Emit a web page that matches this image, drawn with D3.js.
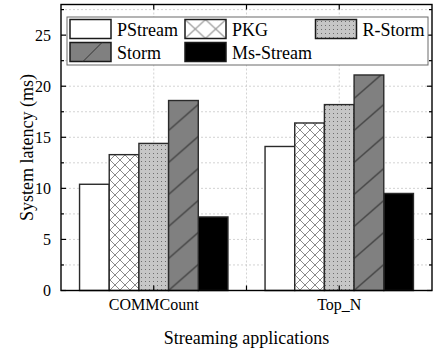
<!DOCTYPE html>
<html>
<head>
<meta charset="utf-8">
<script src="https://cdn.jsdelivr.net/npm/d3@7"></script>
<style>
  html, body { margin: 0; padding: 0; background: #fff; }
  svg { display: block; }
</style>
</head>
<body>
<svg id="chart" width="435" height="350"></svg>
<script>
// Applications on the x axis
const categories = ["COMMCount", "Top_N"];
// Systems compared (one bar per system in each group)
const seriesNames = ["PStream", "PKG", "R-Storm", "Storm", "Ms-Stream"];
// System latency in ms, per system, in category order
const pstream  = [10.4, 14.1];
const pkg      = [13.3, 16.4];
const rstorm   = [14.4, 18.2];
const storm    = [18.6, 21.1];
const msstream = [7.2, 9.5];
const seriesValues = [pstream, pkg, rstorm, storm, msstream];
// Y axis ticks
const yTicks = [0, 5, 10, 15, 20, 25];

const FONT = "'Liberation Serif', 'Times New Roman', Times, 'DejaVu Serif', serif";

const svg = d3.select("#chart").attr("font-family", FONT);
const defs = svg.append("defs");

const plot = { left: 61, right: 432, top: 4.5, bottom: 290.5 };

const x = d3.scaleLinear().domain([0.5, categories.length + 0.5]).range([plot.left, plot.right]);
const y = d3.scaleLinear().domain([0, 28]).range([plot.bottom, plot.top]);

// ---- fill patterns ----
// cross-hatch for PKG
const cross = defs.append("pattern").attr("id", "cross")
  .attr("patternUnits", "userSpaceOnUse").attr("width", 10).attr("height", 10);
cross.append("rect").attr("width", 10).attr("height", 10).attr("fill", "#fff");
cross.append("path").attr("d", "M0,0L10,10M10,0L0,10")
  .attr("stroke", "#8a8a8a").attr("stroke-width", 1).attr("fill", "none");

// larger cross-hatch for the legend key
const crossKey = defs.append("pattern").attr("id", "crossKey")
  .attr("patternUnits", "userSpaceOnUse").attr("x", 185).attr("y", 19.5)
  .attr("width", 20.5).attr("height", 19);
crossKey.append("rect").attr("width", 20.5).attr("height", 19).attr("fill", "#fff");
crossKey.append("path").attr("d", "M0,0L20.5,19M20.5,0L0,19")
  .attr("stroke", "#8a8a8a").attr("stroke-width", 1).attr("fill", "none");

// dotted grey for R-Storm
const dots = defs.append("pattern").attr("id", "dots")
  .attr("patternUnits", "userSpaceOnUse").attr("width", 4).attr("height", 4);
dots.append("rect").attr("width", 4).attr("height", 4).attr("fill", "#c6c6c6");
dots.append("rect").attr("x", 1).attr("y", 1).attr("width", 1).attr("height", 1).attr("fill", "#6e6e6e");

const fills = {
  "PStream": "#ffffff",
  "PKG": "url(#cross)",
  "R-Storm": "url(#dots)",
  "Storm": "#808080",
  "Ms-Stream": "#000000"
};

// ---- grid ----
const grid = svg.append("g").attr("class", "grid");
const gridY = d3.range(2.5, 28, 2.5);
grid.selectAll("line.gy").data(gridY).join("line")
  .attr("class", "gy")
  .attr("x1", plot.left).attr("x2", plot.right)
  .attr("y1", d => y(d)).attr("y2", d => y(d))
  .attr("stroke", "#c8c8c8").attr("stroke-width", 0.8).attr("stroke-dasharray", "2,2");
const xTickVals = [1, 1.5, 2];
grid.selectAll("line.gx").data(xTickVals).join("line")
  .attr("class", "gx")
  .attr("x1", d => x(d)).attr("x2", d => x(d))
  .attr("y1", plot.top).attr("y2", plot.bottom)
  .attr("stroke", "#c8c8c8").attr("stroke-width", 0.8).attr("stroke-dasharray", "2,2");

// ---- bars ----
const barData = [];
categories.forEach((cat, ci) => {
  const inner = d3.scaleBand().domain(seriesNames)
    .range([x(ci + 1 - 0.4), x(ci + 1 + 0.4)]);
  seriesNames.forEach((s, si) => {
    barData.push({ cat, s, value: seriesValues[si][ci], x0: inner(s), w: inner.bandwidth() });
  });
});

const bars = svg.append("g").attr("class", "bars");
bars.selectAll("rect").data(barData.filter(d => d.s !== "Storm")).join("rect")
  .attr("x", d => d.x0).attr("width", d => d.w)
  .attr("y", d => y(d.value)).attr("height", d => y(0) - y(d.value))
  .attr("fill", d => fills[d.s])
  .attr("stroke", "#2a2a2a").attr("stroke-width", 1.4);

// diagonal hatching on the Storm bars, anchored at each bar's base
const stormBars = barData.filter(d => d.s === "Storm");
stormBars.forEach((d, i) => {
  const id = "hatch" + i;
  const p = defs.append("pattern").attr("id", id)
    .attr("patternUnits", "userSpaceOnUse")
    .attr("x", d.x0).attr("y", y(0))
    .attr("width", d.w).attr("height", 32);
  p.append("rect").attr("width", d.w).attr("height", 32).attr("fill", "#808080");
  p.append("path").attr("d", `M0,32L${d.w},6`)
    .attr("stroke", "#333").attr("stroke-width", 1).attr("fill", "none");
  bars.append("rect")
    .attr("x", d.x0).attr("width", d.w)
    .attr("y", y(d.value)).attr("height", y(0) - y(d.value))
    .attr("fill", `url(#${id})`)
    .attr("stroke", "#2a2a2a").attr("stroke-width", 1.4);
});

// ---- axes frame and ticks ----
const axes = svg.append("g").attr("class", "axes");
const minorY = d3.range(2.5, 28, 5);
// left and right ticks (inward)
[[plot.left, 1], [plot.right, -1]].forEach(([ax, dir]) => {
  axes.selectAll(null).data(yTicks).join("line")
    .attr("x1", ax).attr("x2", ax + dir * 5)
    .attr("y1", d => y(d)).attr("y2", d => y(d))
    .attr("stroke", "#000").attr("stroke-width", 1.2);
  axes.selectAll(null).data(minorY).join("line")
    .attr("x1", ax).attr("x2", ax + dir * 3)
    .attr("y1", d => y(d)).attr("y2", d => y(d))
    .attr("stroke", "#000").attr("stroke-width", 1.2);
});
// top and bottom ticks (inward)
[[plot.bottom, -1], [plot.top, 1]].forEach(([ay, dir]) => {
  axes.selectAll(null).data(xTickVals).join("line")
    .attr("x1", d => x(d)).attr("x2", d => x(d))
    .attr("y1", ay).attr("y2", ay + dir * 5)
    .attr("stroke", "#000").attr("stroke-width", 1.2);
});
axes.append("rect")
  .attr("x", plot.left).attr("y", plot.top)
  .attr("width", plot.right - plot.left).attr("height", plot.bottom - plot.top)
  .attr("fill", "none").attr("stroke", "#000").attr("stroke-width", 1.4);

// y tick labels
axes.selectAll("text.yl").data(yTicks).join("text")
  .attr("class", "yl")
  .attr("x", 51).attr("y", d => y(d)).attr("dy", "0.35em")
  .attr("text-anchor", "end").attr("font-size", 16)
  .text(d => d);

// category labels
axes.selectAll("text.xl").data(categories).join("text")
  .attr("class", "xl")
  .attr("x", (d, i) => x(i + 1)).attr("y", 310)
  .attr("text-anchor", "middle").attr("font-size", 16)
  .text(d => d);

// axis titles
svg.append("text")
  .attr("x", (plot.left + plot.right) / 2).attr("y", 343.5)
  .attr("text-anchor", "middle").attr("font-size", 18)
  .text("Streaming applications");
svg.append("text")
  .attr("transform", `translate(33,${(plot.top + plot.bottom) / 2}) rotate(-90)`)
  .attr("text-anchor", "middle").attr("font-size", 18)
  .text("System latency (ms)");

// ---- legend ----
const legend = svg.append("g").attr("class", "legend");
legend.append("rect")
  .attr("x", 67).attr("y", 17).attr("width", 361).attr("height", 48)
  .attr("fill", "#fff").attr("stroke", "#6a6a6a").attr("stroke-width", 1);

const legendPos = [
  { s: "PStream",   sx: 70,    sy: 19.5 },
  { s: "PKG",       sx: 185,   sy: 19.5 },
  { s: "R-Storm",   sx: 315.5, sy: 19.5 },
  { s: "Storm",     sx: 70,    sy: 42.5 },
  { s: "Ms-Stream", sx: 185,   sy: 42.5 }
];
const keyW = 41, keyH = 19;
const items = legend.selectAll("g.item").data(legendPos).join("g").attr("class", "item");
items.append("rect")
  .attr("x", d => d.sx).attr("y", d => d.sy).attr("width", keyW).attr("height", keyH)
  .attr("fill", d => d.s === "PKG" ? "url(#crossKey)" : fills[d.s])
  .attr("stroke", "#1a1a1a").attr("stroke-width", 1.5);
items.filter(d => d.s === "Storm").append("line")
  .attr("x1", d => d.sx + 13).attr("y1", d => d.sy + keyH)
  .attr("x2", d => d.sx + 32).attr("y2", d => d.sy)
  .attr("stroke", "#333").attr("stroke-width", 1);
items.append("text")
  .attr("x", d => d.sx + keyW + 6).attr("y", d => d.sy + 16.5)
  .attr("font-size", 18)
  .text(d => d.s);
</script>
</body>
</html>
